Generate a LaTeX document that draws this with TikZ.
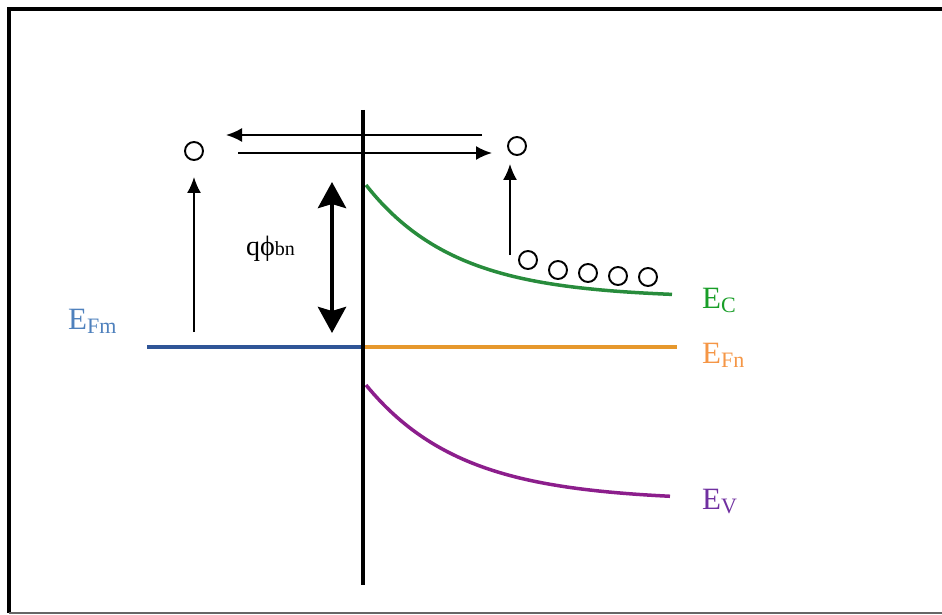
\documentclass[tikz,border=0pt]{standalone}
\usepackage{fontspec}
\setmainfont{Liberation Serif}
\usepackage{xcolor}
\usetikzlibrary{arrows.meta}
\definecolor{fmline}{RGB}{47,85,151}
\definecolor{fmtext}{RGB}{79,129,189}
\definecolor{fnline}{RGB}{230,152,45}
\definecolor{fntext}{RGB}{245,150,70}
\definecolor{ecline}{RGB}{40,140,60}
\definecolor{ectext}{RGB}{25,158,40}
\definecolor{evline}{RGB}{140,30,140}
\definecolor{evtext}{RGB}{112,48,160}
\newcommand{\bandlbl}[1]{{\fontsize{31}{33}\selectfont E}\raisebox{-4pt}{\fontsize{22}{22}\selectfont #1}}

\begin{document}
\begin{tikzpicture}[x=1pt,y=-1pt,
  elec/.style={circle,draw,line width=1.9pt,minimum size=18pt,inner sep=0pt},
  arr/.style={-{Latex[length=16pt,width=14pt]},line width=1.9pt},
  dbl/.style={{Stealth[length=26pt,width=28pt,inset=4pt]}-{Stealth[length=26pt,width=28pt,inset=4pt]},line width=4.5pt},
  lvl/.style={line width=4pt},
  lbl/.style={anchor=base west,inner sep=0pt,text=#1}]
\useasboundingbox (0,0) rectangle (942,615);
\draw[line width=4pt] (942,9) -- (8.5,9) -- (8.5,613);
\draw[black!60,line width=2.5pt] (8.5,613) -- (942,613);
\coordinate (top) at (363,110);
\coordinate (bot) at (363,585);
\draw[fmline,lvl] (147,347) -- (363,347);
\draw[fnline,lvl] (363,347) -- (677,347);
\draw[ecline,line width=3.5pt] plot[domain=366:672,samples=80] (\x,{298-113*exp(-(\x-366)/89)});
\draw[evline,line width=3.5pt] plot[domain=366:670,samples=80] (\x,{501-116*exp(-(\x-366)/95)});
\draw[line width=4pt] (top) -- (bot);
\node[elec] (e1) at (194,151) {};
\node[elec] (e2) at (517,146) {};
\node[elec] (c1) at (528,260) {};
\node[elec] (c2) at (558,270) {};
\node[elec] (c3) at (588,273) {};
\node[elec] (c4) at (618,276) {};
\node[elec] (c5) at (648,277) {};
\coordinate (m1) at (194,332);
\coordinate (s1) at (510,255);
\coordinate (l1) at (482,135);
\coordinate (l2) at (226,135);
\coordinate (r1) at (238,153);
\coordinate (r2) at (492,153);
\coordinate (b1) at (332,333);
\coordinate (b2) at (332,182);
\draw[arr] (m1) -- ([yshift=-16pt]e1.south);
\draw[arr] (s1) -- ([xshift=-7pt,yshift=-8pt]e2.south);
\draw[arr] (l1) -- (l2);
\draw[arr] (r1) -- (r2);
\draw[dbl] (b1) -- (b2);
\node[lbl=black] (phi) at (246,255) {{\fontsize{28}{30}\selectfont qϕ}{\fontsize{20}{20}\selectfont bn}};
\node[lbl=fmtext] (efm) at (68,329) {\bandlbl{Fm}};
\node[lbl=ectext] (ec) at (702,308) {\bandlbl{C}};
\node[lbl=fntext] (efn) at (702,363) {\bandlbl{Fn}};
\node[lbl=evtext] (ev) at (702,509) {\bandlbl{V}};
\end{tikzpicture}
\end{document}
